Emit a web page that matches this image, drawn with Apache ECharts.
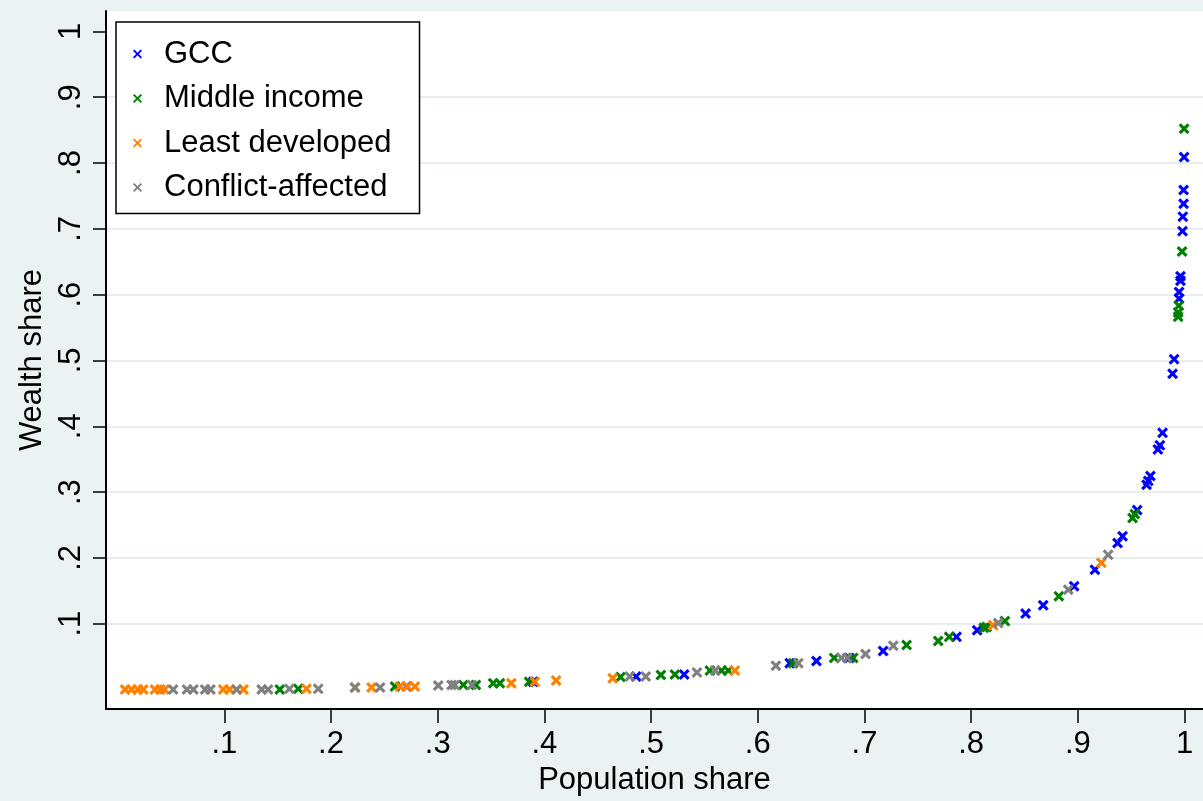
<!DOCTYPE html>
<html>
<head>
<meta charset="utf-8">
<script src="https://cdn.jsdelivr.net/npm/echarts@6/dist/echarts.min.js"></script>
<style>
  html, body { margin: 0; padding: 0; background: #eaf2f3; }
  #chart { width: 1203px; height: 801px; }
</style>
</head>
<body>
<div id="chart"></div>
<script>
// ---- Data (population share, wealth share) ----
const seriesNames = ['GCC', 'Middle income', 'Least developed', 'Conflict-affected'];

const gccData = [
  [0.271, 0.0045], [0.3895, 0.0116], [0.486, 0.0197], [0.531, 0.0227], [0.630, 0.040],
  [0.655, 0.0434], [0.6857, 0.048], [0.7175, 0.0585], [0.7863, 0.080], [0.8056, 0.090],
  [0.851, 0.1153], [0.8675, 0.128], [0.8965, 0.1568], [0.916, 0.182], [0.9372, 0.2227],
  [0.9419, 0.2328], [0.9556, 0.2726], [0.9644, 0.311], [0.966, 0.317], [0.968, 0.3245],
  [0.975, 0.3648], [0.9769, 0.371], [0.9794, 0.390], [0.9888, 0.4797], [0.9902, 0.502],
  [0.9949, 0.594], [0.9949, 0.604], [0.9962, 0.621], [0.9962, 0.628], [0.9981, 0.6965],
  [0.9984, 0.7185], [0.9991, 0.738], [0.9991, 0.759], [0.9996, 0.809]
];

const middleIncomeData = [
  [0.152, 0.000], [0.1693, 0.001], [0.260, 0.0045], [0.324, 0.007], [0.3358, 0.007],
  [0.352, 0.0095], [0.3583, 0.0095], [0.3857, 0.0116], [0.4714, 0.019], [0.5092, 0.022],
  [0.5223, 0.0227], [0.5551, 0.0287], [0.5661, 0.0287], [0.5723, 0.0287], [0.6332, 0.040],
  [0.6716, 0.048], [0.6894, 0.048], [0.7395, 0.0676], [0.7691, 0.0736], [0.7794, 0.080],
  [0.8119, 0.0937], [0.8146, 0.095], [0.8316, 0.1039], [0.8822, 0.1416], [0.9513, 0.2605],
  [0.9534, 0.2665], [0.9946, 0.583], [0.994, 0.573], [0.994, 0.5665], [0.9977, 0.6656],
  [0.9996, 0.852]
];

const leastDevelopedData = [
  [0.007, 0.000], [0.013, 0.000], [0.019, 0.000], [0.024, 0.000], [0.035, 0.000],
  [0.040, 0.000], [0.044, 0.000], [0.099, 0.000], [0.105, 0.000], [0.118, 0.000],
  [0.177, 0.001], [0.2225, 0.003], [0.238, 0.003], [0.2646, 0.0045], [0.2715, 0.0045],
  [0.2786, 0.0045], [0.369, 0.0095], [0.391, 0.0116], [0.411, 0.0136], [0.464, 0.017],
  [0.5785, 0.0287], [0.8206, 0.0978], [0.922, 0.1925]
];

const conflictData = [
  [0.052, 0.000], [0.065, 0.000], [0.071, 0.000], [0.082, 0.000], [0.087, 0.000],
  [0.1115, 0.000], [0.135, 0.000], [0.141, 0.000], [0.161, 0.001], [0.188, 0.001],
  [0.2225, 0.003], [0.246, 0.003], [0.3005, 0.006], [0.313, 0.007], [0.316, 0.007],
  [0.332, 0.007], [0.480, 0.0197], [0.495, 0.0197], [0.543, 0.026], [0.560, 0.0287],
  [0.617, 0.036], [0.638, 0.040], [0.6785, 0.048], [0.684, 0.048], [0.701, 0.054],
  [0.727, 0.0665], [0.8253, 0.101], [0.891, 0.1516], [0.9284, 0.2046]
];

// ---- Ticks ----
const xTicks = [0.1, 0.2, 0.3, 0.4, 0.5, 0.6, 0.7, 0.8, 0.9, 1];
const xTickLabels = ['.1', '.2', '.3', '.4', '.5', '.6', '.7', '.8', '.9', '1'];
const yTicks = [0.1, 0.2, 0.3, 0.4, 0.5, 0.6, 0.7, 0.8, 0.9, 1];
const yTickLabels = ['.1', '.2', '.3', '.4', '.5', '.6', '.7', '.8', '.9', '1'];

const colors = ['#0000ff', '#008000', '#ff8000', '#808080'];
const FONT = "'Liberation Sans', Arial, Helvetica, sans-serif";
const FS = 31;
const CROSS = 'path://M0,2 L2,0 L5,3 L8,0 L10,2 L7,5 L10,8 L8,10 L5,7 L2,10 L0,8 L3,5 Z';
const CROSS_THIN = 'path://M0,1.5 L1.5,0 L5,3.5 L8.5,0 L10,1.5 L6.5,5 L10,8.5 L8.5,10 L5,6.5 L1.5,10 L0,8.5 L3.5,5 Z';

function labelFor(ticks, labels) {
  return function (v) {
    const i = ticks.findIndex(t => Math.abs(t - v) < 1e-9);
    return i >= 0 ? labels[i] : '';
  };
}

const gridColors = yTicks.map((t, i) => i === yTicks.length - 1 ? 'rgba(0,0,0,0)' : '#e6eef0');

const chart = echarts.init(document.getElementById('chart'), null, { renderer: 'canvas' });
const allData = [gccData, middleIncomeData, leastDevelopedData, conflictData];

chart.setOption({
  animation: false,
  backgroundColor: '#eaf2f3',
  textStyle: { fontFamily: FONT },
  grid: {
    left: 106, right: 0, top: 11, bottom: 88,
    show: true, backgroundColor: '#ffffff', borderWidth: 0
  },
  legend: {
    orient: 'vertical',
    left: 116, top: 22,
    padding: [16, 28, 10, 17],
    itemGap: 12.5,
    itemWidth: 9, itemHeight: 9,
    backgroundColor: '#ffffff',
    borderColor: '#000000', borderWidth: 1.5,
    icon: CROSS_THIN,
    data: seriesNames,
    textStyle: { fontSize: FS, color: '#000', fontFamily: FONT, lineHeight: 32, padding: [0, 0, 0, 17] }
  },
  xAxis: {
    type: 'value',
    min: -0.0109, max: 1.0173,
    name: 'Population share',
    nameLocation: 'middle',
    nameGap: 48,
    nameTextStyle: { fontSize: FS, color: '#000', fontFamily: FONT },
    axisLine: { show: true, onZero: false, lineStyle: { color: '#000', width: 2 } },
    axisTick: { show: true, length: 14, customValues: xTicks, lineStyle: { color: '#000', width: 1.5 } },
    axisLabel: { customValues: xTicks, formatter: labelFor(xTicks, xTickLabels), fontSize: FS, color: '#000', margin: 20, fontFamily: FONT },
    splitLine: { show: false }
  },
  yAxis: {
    type: 'value',
    min: -0.0298, max: 1.031,
    name: 'Wealth share',
    nameLocation: 'middle',
    nameGap: 54,
    nameRotate: 90,
    nameTextStyle: { fontSize: FS, color: '#000', fontFamily: FONT },
    axisLine: { show: true, onZero: false, lineStyle: { color: '#000', width: 2 } },
    axisTick: { show: true, length: 13, customValues: yTicks, lineStyle: { color: '#000', width: 1.5 } },
    axisLabel: { customValues: yTicks, rotate: 90, formatter: labelFor(yTicks, yTickLabels), fontSize: FS, color: '#000', margin: 19, fontFamily: FONT },
    splitLine: { show: true, lineStyle: { color: gridColors, width: 2 } }
  },
  series: seriesNames.map((name, i) => ({
    name: name,
    type: 'scatter',
    data: allData[i],
    symbol: CROSS,
    symbolSize: 11,
    itemStyle: { color: colors[i], opacity: 1 },
    emphasis: { disabled: true }
  }))
});
</script>
</body>
</html>
